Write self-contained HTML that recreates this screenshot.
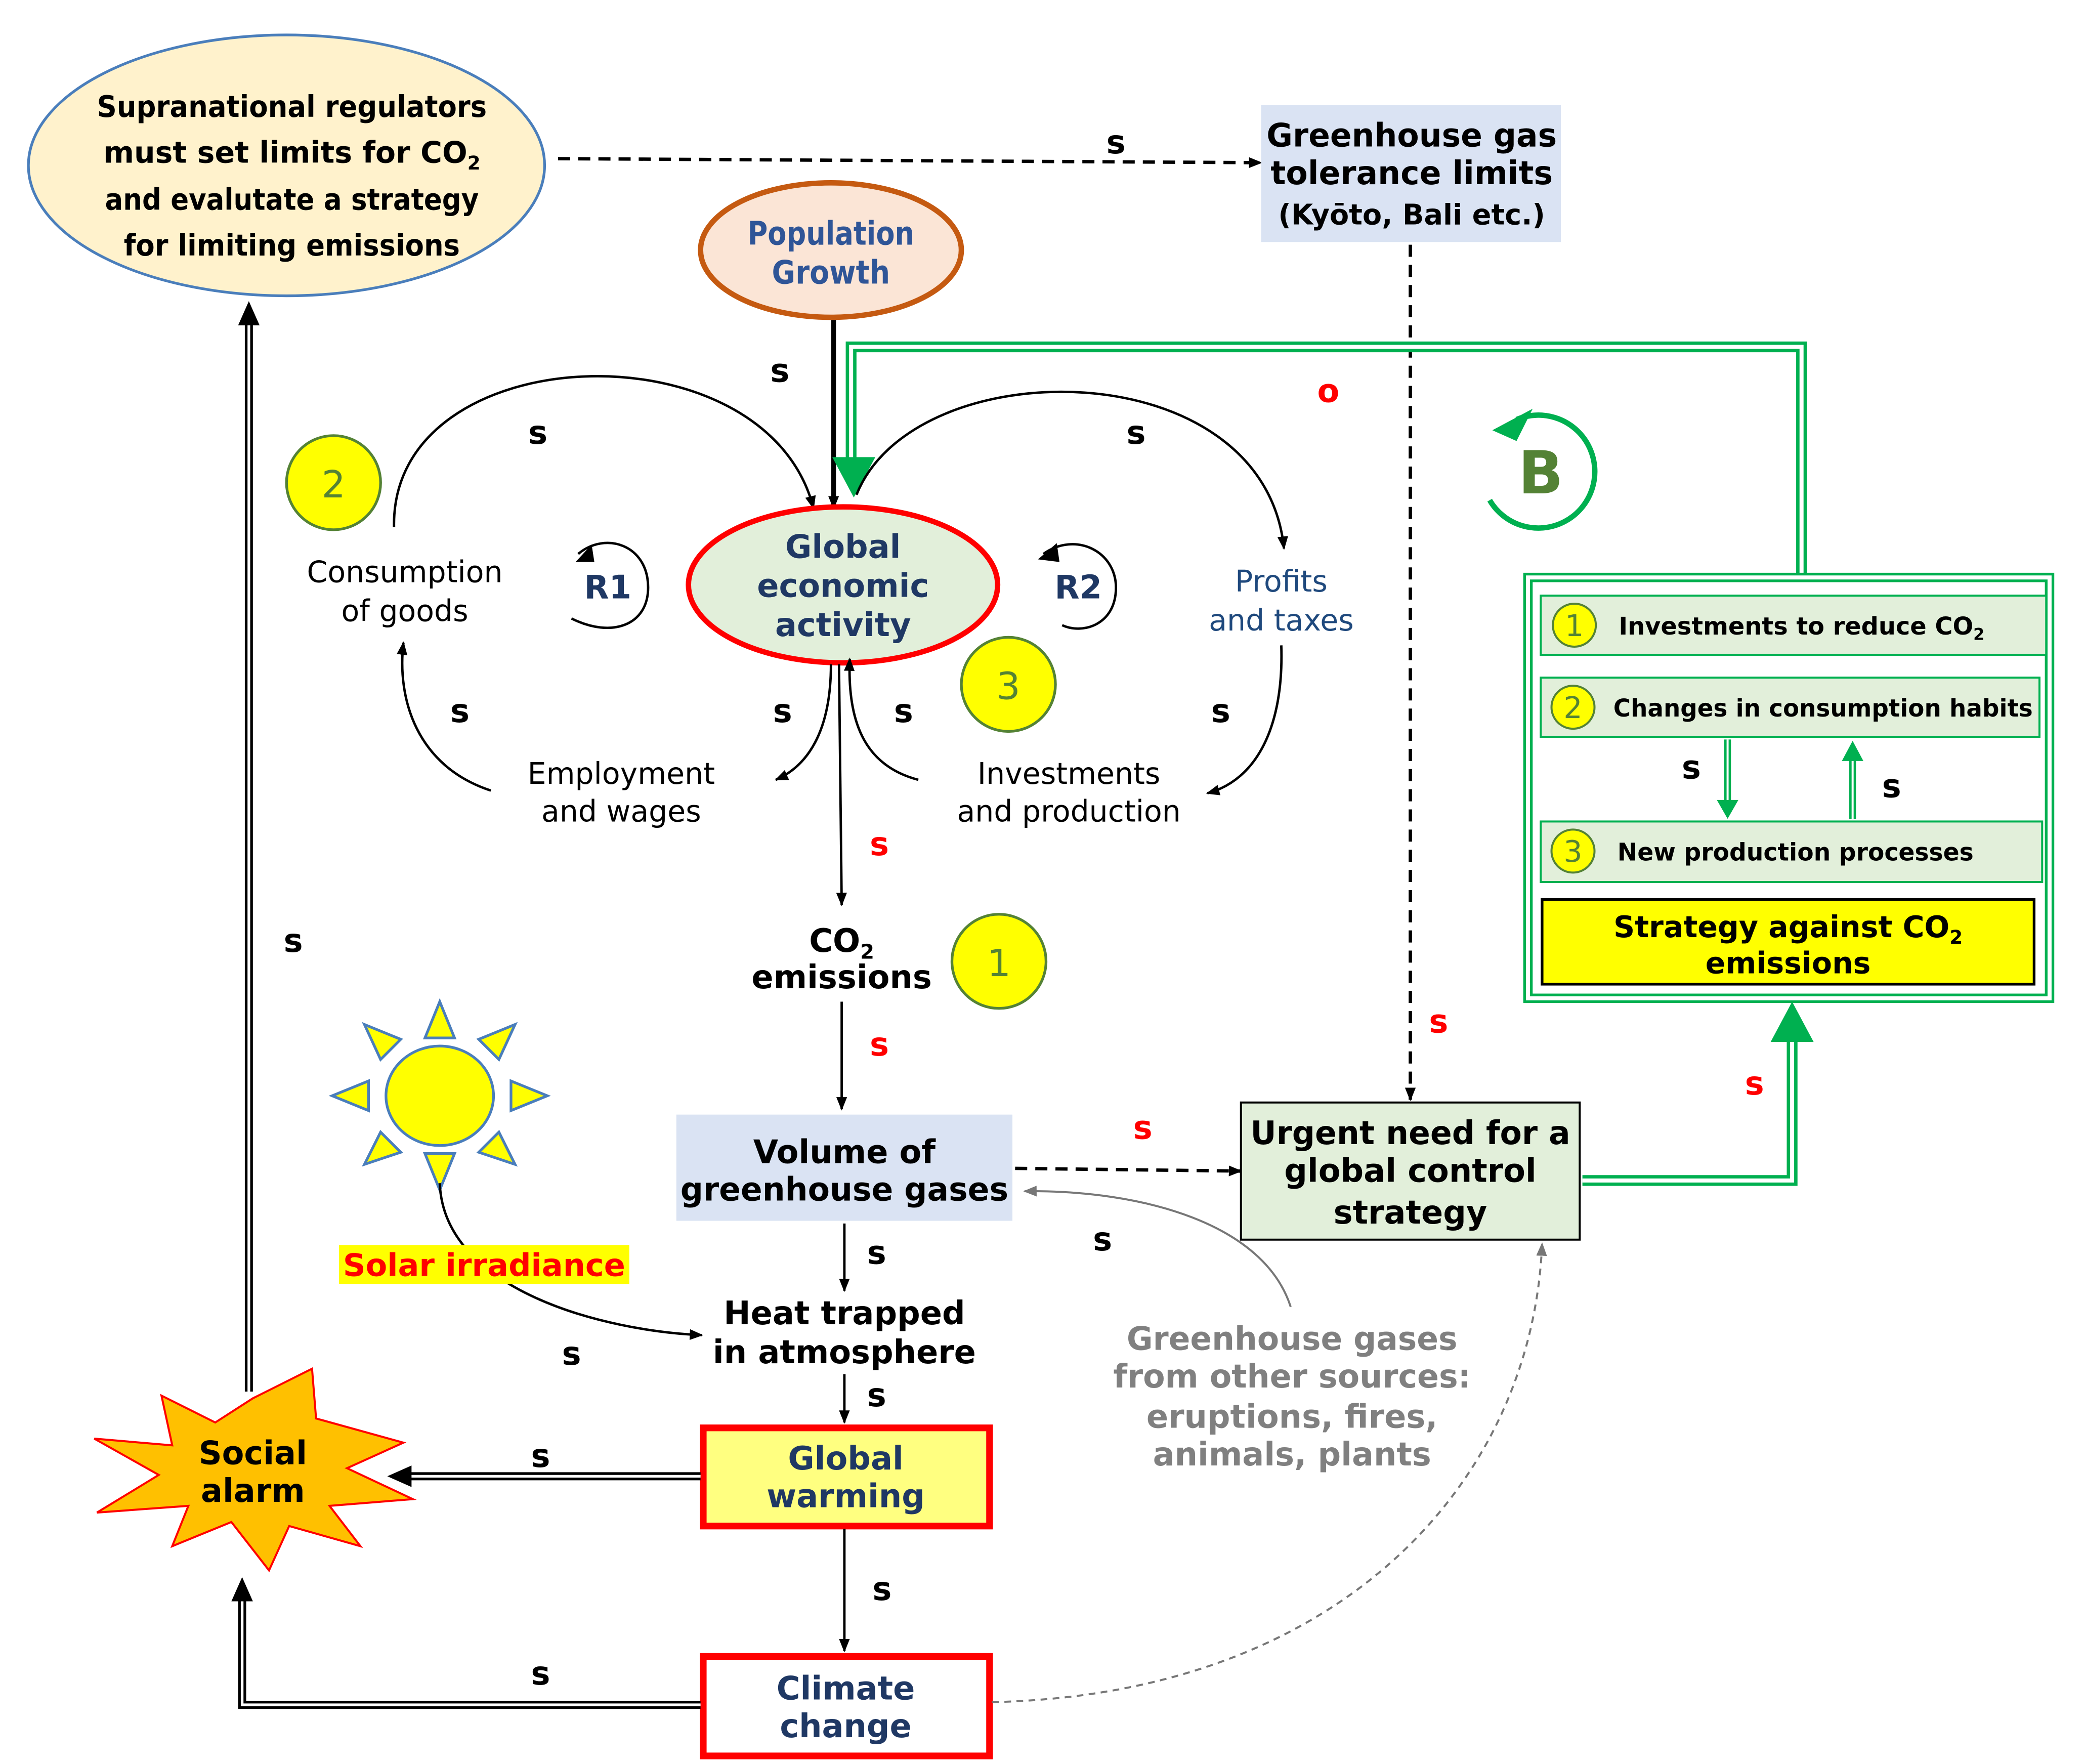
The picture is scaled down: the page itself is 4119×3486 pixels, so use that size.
<!DOCTYPE html>
<html><head><meta charset="utf-8"><style>
html,body{margin:0;padding:0;background:#fff}
svg{display:block}
text{font-family:"DejaVu Sans","Liberation Sans",sans-serif}
.b{font-weight:bold}
</style></head><body>
<svg width="4119" height="3486" viewBox="0 0 1550 1312" xmlns="http://www.w3.org/2000/svg">
<defs>
<marker id="a" markerWidth="10" markerHeight="10" refX="9" refY="5" orient="auto" markerUnits="userSpaceOnUse"><path d="M0,1 L10,5 L0,9 z" fill="#000"/></marker>
<marker id="ag" markerWidth="10" markerHeight="10" refX="9" refY="5" orient="auto" markerUnits="userSpaceOnUse"><path d="M0,1 L10,5 L0,9 z" fill="#777"/></marker>
</defs>
<g font-size="22" text-anchor="middle">
<ellipse cx="213" cy="123" rx="192" ry="97" fill="#fff2cc" stroke="#4a7ebb" stroke-width="2"/>
<text class="b" x="217" y="87" textLength="290" lengthAdjust="spacingAndGlyphs">Supranational regulators</text>
<text class="b" x="217" y="121">must set limits for CO<tspan font-size="14" dy="5">2</tspan></text>
<text class="b" x="217" y="156" textLength="278" lengthAdjust="spacingAndGlyphs">and evalutate a strategy</text>
<text class="b" x="217" y="190" textLength="250" lengthAdjust="spacingAndGlyphs">for limiting emissions</text>
<line x1="415" y1="118" x2="938" y2="121" stroke="#000" stroke-width="2.5" stroke-dasharray="9,6" marker-end="url(#a)"/>
<text class="b" x="830" y="114" font-size="24">s</text>
<rect x="938" y="78" width="223" height="102" fill="#dae3f3"/>
<text class="b" x="1050" y="109" font-size="24" textLength="216" lengthAdjust="spacingAndGlyphs">Greenhouse gas</text>
<text class="b" x="1050" y="137" font-size="24" textLength="210" lengthAdjust="spacingAndGlyphs">tolerance limits</text>
<text class="b" x="1050" y="167" font-size="21">(Kyōto, Bali etc.)</text>
<line x1="1049" y1="182" x2="1049" y2="818" stroke="#000" stroke-width="2.5" stroke-dasharray="9,6" marker-end="url(#a)"/>
<text class="b" x="1070" y="768" fill="#f00" font-size="24">s</text>
<ellipse cx="618" cy="186" rx="97" ry="50" fill="#fbe5d6" stroke="#c55a11" stroke-width="4"/>
<text class="b" x="618" y="182" fill="#2f5597" font-size="24" textLength="124" lengthAdjust="spacingAndGlyphs">Population</text>
<text class="b" x="618" y="211" fill="#2f5597" font-size="24" textLength="88" lengthAdjust="spacingAndGlyphs">Growth</text>
<line x1="620" y1="238" x2="620" y2="378" stroke="#000" stroke-width="3.5" marker-end="url(#a)"/>
<text class="b" x="580" y="284" font-size="24">s</text>
<path d="M1340,428 V258 H633 V350" fill="none" stroke="#00b050" stroke-width="8"/>
<path d="M1340,428 V258 H633 V350" fill="none" stroke="#fff" stroke-width="3"/>
<path d="M619,340 L651,340 L635,370 z" fill="#00b050"/>
<text class="b" x="988" y="299" fill="#f00" font-size="24">o</text>
<path d="M1128,312 A42,42 0 1 1 1108,372" fill="none" stroke="#00b050" stroke-width="4"/>
<path d="M1110,320 L1140,304 L1128,328 z" fill="#00b050"/>
<text class="b" x="1146" y="367" fill="#548235" font-size="44">B</text>
<circle cx="248" cy="359" r="35" fill="#ffff00" stroke="#548235" stroke-width="2"/><text x="248" y="370" font-size="28" fill="#548235">2</text>
<circle cx="750" cy="509" r="35" fill="#ffff00" stroke="#548235" stroke-width="2"/><text x="750" y="520" font-size="28" fill="#548235">3</text>
<circle cx="743" cy="715" r="35" fill="#ffff00" stroke="#548235" stroke-width="2"/><text x="743" y="726" font-size="28" fill="#548235">1</text>
<path d="M293,392 C290,250 570,240 605,378" fill="none" stroke="#000" stroke-width="1.8" marker-end="url(#a)"/>
<text class="b" x="400" y="330" font-size="24">s</text>
<path d="M637,368 C680,260 940,260 955,408" fill="none" stroke="#000" stroke-width="1.8" marker-end="url(#a)"/>
<text class="b" x="845" y="330" font-size="24">s</text>
<text x="301" y="433">Consumption</text><text x="301" y="462">of goods</text>
<path d="M430,412 C450,395 482,405 482,437 C482,465 455,475 425,460" fill="none" stroke="#000" stroke-width="1.8"/>
<path d="M428,418 L440,405 L442,418 z" fill="#000"/>
<text class="b" x="452" y="445" fill="#1f3864" font-size="24">R1</text>
<path d="M776,412 C800,395 830,410 830,437 C830,465 805,472 790,465" fill="none" stroke="#000" stroke-width="1.8"/>
<path d="M772,416 L786,404 L788,418 z" fill="#000"/>
<text class="b" x="802" y="445" fill="#1f3864" font-size="24">R2</text>
<text x="953" y="440" fill="#1f497d">Profits</text><text x="953" y="469" fill="#1f497d">and taxes</text>
<ellipse cx="627" cy="435" rx="115" ry="58" fill="#e2efda" stroke="#f00" stroke-width="4"/>
<text class="b" x="627" y="415" fill="#1f3864" font-size="24">Global</text>
<text class="b" x="627" y="444" fill="#1f3864" font-size="24">economic</text>
<text class="b" x="627" y="473" fill="#1f3864" font-size="24">activity</text>
<text x="462" y="583">Employment</text><text x="462" y="611">and wages</text>
<text x="795" y="583">Investments</text><text x="795" y="611">and production</text>
<path d="M365,588 C310,570 295,520 300,478" fill="none" stroke="#000" stroke-width="1.8" marker-end="url(#a)"/>
<text class="b" x="342" y="537" font-size="24">s</text>
<path d="M618,494 C618,545 600,570 577,580" fill="none" stroke="#000" stroke-width="1.8" marker-end="url(#a)"/>
<text class="b" x="582" y="537" font-size="24">s</text>
<path d="M683,580 C645,570 630,540 632,490" fill="none" stroke="#000" stroke-width="1.8" marker-end="url(#a)"/>
<text class="b" x="672" y="537" font-size="24">s</text>
<path d="M953,480 C955,540 935,580 898,590" fill="none" stroke="#000" stroke-width="1.8" marker-end="url(#a)"/>
<text class="b" x="908" y="537" font-size="24">s</text>
<line x1="624" y1="494" x2="626" y2="673" stroke="#000" stroke-width="1.8" marker-end="url(#a)"/>
<text class="b" x="654" y="636" fill="#f00" font-size="24">s</text>
<text class="b" x="626" y="708" font-size="24">CO<tspan font-size="15" dy="5">2</tspan></text>
<text class="b" x="626" y="735" font-size="24">emissions</text>
<line x1="626" y1="745" x2="626" y2="825" stroke="#000" stroke-width="1.8" marker-end="url(#a)"/>
<text class="b" x="654" y="785" fill="#f00" font-size="24">s</text>
<rect x="503" y="829" width="250" height="79" fill="#dae3f3"/>
<text class="b" x="628" y="865" font-size="24">Volume of</text>
<text class="b" x="628" y="893" font-size="24" textLength="244" lengthAdjust="spacingAndGlyphs">greenhouse gases</text>
<line x1="755" y1="869" x2="923" y2="871" stroke="#000" stroke-width="2.5" stroke-dasharray="9,6" marker-end="url(#a)"/>
<text class="b" x="850" y="847" fill="#f00" font-size="24">s</text>
<rect x="923" y="820" width="252" height="102" fill="#e2efda" stroke="#000" stroke-width="1.5"/>
<text class="b" x="1049" y="851" font-size="24" textLength="238" lengthAdjust="spacingAndGlyphs">Urgent need for a</text>
<text class="b" x="1049" y="879" font-size="24">global control</text>
<text class="b" x="1049" y="910" font-size="24">strategy</text>
<path d="M1177,878 H1333 V770" fill="none" stroke="#00b050" stroke-width="8"/>
<path d="M1177,878 H1333 V770" fill="none" stroke="#fff" stroke-width="3"/>
<path d="M1317,775 L1349,775 L1333,745 z" fill="#00b050"/>
<text class="b" x="1305" y="814" fill="#f00" font-size="24">s</text>
<rect x="1134" y="427" width="393" height="318" fill="#fff" stroke="#00b050" stroke-width="2"/>
<rect x="1139" y="432" width="383" height="308" fill="none" stroke="#00b050" stroke-width="2"/>
<g font-size="18" text-anchor="start">
<rect x="1146" y="443" width="376" height="44" fill="#e2efda" stroke="#00b050" stroke-width="1.5"/>
<circle cx="1171" cy="465" r="16" fill="#ffff00" stroke="#548235" stroke-width="1.5"/><text x="1171" y="473" text-anchor="middle" font-size="22" fill="#548235">1</text>
<text class="b" x="1204" y="472">Investments to reduce CO<tspan font-size="12" dy="4">2</tspan></text>
<rect x="1146" y="504" width="371" height="44" fill="#e2efda" stroke="#00b050" stroke-width="1.5"/>
<circle cx="1170" cy="526" r="16" fill="#ffff00" stroke="#548235" stroke-width="1.5"/><text x="1170" y="534" text-anchor="middle" font-size="22" fill="#548235">2</text>
<text class="b" x="1200" y="533" textLength="312" lengthAdjust="spacingAndGlyphs">Changes in consumption habits</text>
<rect x="1146" y="611" width="373" height="45" fill="#e2efda" stroke="#00b050" stroke-width="1.5"/>
<circle cx="1170" cy="633" r="16" fill="#ffff00" stroke="#548235" stroke-width="1.5"/><text x="1170" y="641" text-anchor="middle" font-size="22" fill="#548235">3</text>
<text class="b" x="1203" y="640" textLength="265" lengthAdjust="spacingAndGlyphs">New production processes</text>
</g>
<path d="M1285,550 V598" stroke="#00b050" stroke-width="5" fill="none"/><path d="M1285,550 V598" stroke="#fff" stroke-width="1.5" fill="none"/>
<path d="M1277,595 L1293,595 L1285,609 z" fill="#00b050"/>
<path d="M1378,609 V563" stroke="#00b050" stroke-width="5" fill="none"/><path d="M1378,609 V563" stroke="#fff" stroke-width="1.5" fill="none"/>
<path d="M1370,566 L1386,566 L1378,551 z" fill="#00b050"/>
<text class="b" x="1258" y="579" font-size="24">s</text>
<text class="b" x="1407" y="593" font-size="24">s</text>
<rect x="1147" y="669" width="366" height="63" fill="#ffff00" stroke="#000" stroke-width="2"/>
<text class="b" x="1330" y="697" font-size="22">Strategy against CO<tspan font-size="14" dy="5">2</tspan></text>
<text class="b" x="1330" y="724" font-size="22">emissions</text>
<g fill="#ffff00" stroke="#4a7ebb" stroke-width="2">
<path d="M327,745 L316,772 L338,772 z"/>
<path d="M327,885 L316,858 L338,858 z"/>
<path d="M247,815 L274,804 L274,826 z"/>
<path d="M407,815 L380,804 L380,826 z"/>
<path d="M271,762 L283,788 L298,773 z"/>
<path d="M383,762 L356,773 L371,788 z"/>
<path d="M271,866 L298,857 L283,842 z"/>
<path d="M383,866 L371,842 L356,857 z"/>
<ellipse cx="327" cy="815" rx="40" ry="37"/>
</g>
<path d="M327,880 C330,960 450,990 522,993" fill="none" stroke="#000" stroke-width="1.8" marker-end="url(#a)"/>
<rect x="252" y="926" width="216" height="29" fill="#ffff00"/>
<text class="b" x="360" y="949" fill="#f00" font-size="23" textLength="210" lengthAdjust="spacingAndGlyphs">Solar irradiance</text>
<text class="b" x="425" y="1015" font-size="24">s</text>
<line x1="628" y1="910" x2="628" y2="960" stroke="#000" stroke-width="1.8" marker-end="url(#a)"/>
<text class="b" x="652" y="940" font-size="24">s</text>
<text class="b" x="628" y="985" font-size="24">Heat trapped</text>
<text class="b" x="628" y="1014" font-size="24">in atmosphere</text>
<line x1="628" y1="1022" x2="628" y2="1058" stroke="#000" stroke-width="1.8" marker-end="url(#a)"/>
<text class="b" x="652" y="1046" font-size="24">s</text>
<rect x="523" y="1062" width="213" height="73" fill="#ffff80" stroke="#f00" stroke-width="5"/>
<text class="b" x="629" y="1093" fill="#1f3864" font-size="24">Global</text>
<text class="b" x="629" y="1121" fill="#1f3864" font-size="24">warming</text>
<line x1="628" y1="1137" x2="628" y2="1228" stroke="#000" stroke-width="1.8" marker-end="url(#a)"/>
<text class="b" x="656" y="1190" font-size="24">s</text>
<rect x="523" y="1232" width="213" height="74" fill="#fff" stroke="#f00" stroke-width="5"/>
<text class="b" x="629" y="1264" fill="#1f3864" font-size="24">Climate</text>
<text class="b" x="629" y="1292" fill="#1f3864" font-size="24">change</text>
<path d="M188,1040 L232,1018 L235,1055 L300,1073 L258,1092 L307,1115 L245,1120 L268,1150 L215,1135 L200,1168 L172,1132 L128,1150 L140,1120 L72,1125 L118,1097 L70,1070 L128,1075 L120,1038 L160,1058 z" fill="#ffc000" stroke="#f00" stroke-width="1.5"/>
<text class="b" x="188" y="1089" font-size="24">Social</text>
<text class="b" x="188" y="1117" font-size="24">alarm</text>
<path d="M521,1098 H305" stroke="#000" stroke-width="6" fill="none"/><path d="M521,1098 H305" stroke="#fff" stroke-width="2" fill="none"/>
<path d="M306,1090 L306,1106 L288,1098 z" fill="#000"/>
<text class="b" x="402" y="1091" font-size="24">s</text>
<path d="M521,1268 H180 V1190" stroke="#000" stroke-width="6" fill="none"/><path d="M521,1268 H180 V1190" stroke="#fff" stroke-width="2" fill="none"/>
<path d="M172,1191 L188,1191 L180,1173 z" fill="#000"/>
<text class="b" x="402" y="1253" font-size="24">s</text>
<path d="M185,1035 V240" stroke="#000" stroke-width="6" fill="none"/><path d="M185,1035 V240" stroke="#fff" stroke-width="2" fill="none"/>
<path d="M177,242 L193,242 L185,224 z" fill="#000"/>
<text class="b" x="218" y="708" font-size="24">s</text>
<path d="M738,1266 C1000,1260 1140,1100 1147,925" fill="none" stroke="#777" stroke-width="1.5" stroke-dasharray="5,4" marker-end="url(#ag)"/>
<path d="M960,972 C940,910 850,885 762,886" fill="none" stroke="#777" stroke-width="1.5" marker-end="url(#ag)"/>
<text class="b" x="820" y="930" font-size="24">s</text>
<g fill="#808080" font-size="24">
<text class="b" x="961" y="1004" textLength="246" lengthAdjust="spacingAndGlyphs">Greenhouse gases</text>
<text class="b" x="961" y="1032" textLength="266" lengthAdjust="spacingAndGlyphs">from other sources:</text>
<text class="b" x="961" y="1062">eruptions, fires,</text>
<text class="b" x="961" y="1090">animals, plants</text>
</g>
</g>
</svg>
</body></html>
